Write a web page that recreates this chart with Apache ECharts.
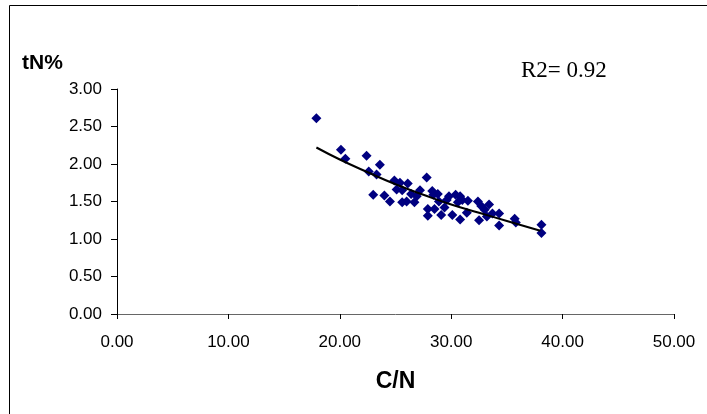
<!DOCTYPE html>
<html>
<head>
<meta charset="utf-8">
<script src="https://cdn.jsdelivr.net/npm/echarts@6/dist/echarts.min.js"></script>
<style>
  html, body { margin: 0; padding: 0; background: #fff; }
  #chart { width: 707px; height: 414px; }
</style>
</head>
<body>
<div id="chart"></div>
<script>
// C/N ratio of each sample
const cnValues = [
  17.9, 20.1, 20.5, 22.4, 22.6, 23.3, 23.6, 23.0, 24.0, 24.5,
  24.9, 25.1, 25.4, 25.6, 25.6, 26.1, 26.0, 26.4, 26.7, 26.9,
  27.2, 27.8, 27.9, 27.9, 28.3, 28.4, 28.5, 28.8, 28.9, 29.1,
  29.4, 29.6, 29.8, 30.1, 30.4, 30.6, 30.8, 30.8, 31.0, 31.4,
  31.5, 32.4, 32.5, 32.7, 33.0, 33.4, 33.2, 33.7, 34.3, 34.3,
  35.7, 35.8, 38.1, 38.1
];
// total nitrogen (%) of each sample
const tnValues = [
  2.61, 2.19, 2.07, 2.11, 1.90, 1.86, 1.99, 1.59, 1.58, 1.50,
  1.78, 1.66, 1.75, 1.65, 1.49, 1.74, 1.50, 1.60, 1.49, 1.57,
  1.65, 1.82, 1.31, 1.40, 1.64, 1.59, 1.40, 1.60, 1.50, 1.32,
  1.42, 1.52, 1.57, 1.32, 1.59, 1.49, 1.57, 1.26, 1.52, 1.35,
  1.51, 1.50, 1.25, 1.44, 1.39, 1.46, 1.30, 1.34, 1.34, 1.18,
  1.27, 1.22, 1.19, 1.08
];
// trend line through the cloud
const trendX = [17.9, 20, 22.5, 25, 27.5, 30, 32.5, 35, 38];
const trendY = [2.22, 2.06, 1.89, 1.73, 1.59, 1.46, 1.35, 1.24, 1.11];

const xTicks = [0, 10, 20, 30, 40, 50];
const yTicks = [0, 0.5, 1, 1.5, 2, 2.5, 3];
const r2Text = 'R2= 0.92';

const scatterData = cnValues.map((x, i) => [x, tnValues[i]]);
const trendData = trendX.map((x, i) => [x, trendY[i]]);

const chart = echarts.init(document.getElementById('chart'));
chart.setOption({
  backgroundColor: '#fff',
  animation: false,
  grid: { left: 117, right: 33, top: 89, bottom: 100 },
  xAxis: {
    type: 'value',
    min: xTicks[0],
    max: xTicks[xTicks.length - 1],
    interval: 10,
    name: 'C/N',
    nameLocation: 'middle',
    nameGap: 56,
    nameTextStyle: { fontFamily: 'Liberation Sans', fontWeight: 'bold', fontSize: 23, color: '#000' },
    axisLine: { lineStyle: { color: '#666', width: 1 } },
    axisTick: { show: true, inside: false, length: 5, lineStyle: { color: '#000' } },
    axisLabel: { formatter: v => v.toFixed(2), fontFamily: 'Liberation Sans', fontSize: 17, color: '#000', margin: 20 },
    splitLine: { show: false }
  },
  yAxis: {
    type: 'value',
    min: yTicks[0],
    max: yTicks[yTicks.length - 1],
    interval: 0.5,
    axisLine: { show: true, lineStyle: { color: '#000', width: 1 } },
    axisTick: { show: true, inside: false, length: 6, lineStyle: { color: '#000' } },
    axisLabel: { formatter: v => v.toFixed(2), fontFamily: 'Liberation Sans', fontSize: 17, color: '#000', margin: 15 },
    splitLine: { show: false }
  },
  graphic: [
    {
      type: 'rect',
      shape: { x: 9.5, y: 5.5, width: 760, height: 460 },
      style: { fill: 'none', stroke: '#000', lineWidth: 1 },
      silent: true
    },
    {
      type: 'text',
      left: 22, top: 53,
      style: { text: 'tN%', fontFamily: 'Liberation Sans', fontWeight: 'bold', fontSize: 21, fill: '#000' }
    },
    {
      type: 'text',
      left: 521, top: 59,
      style: { text: r2Text, fontFamily: 'Liberation Serif', fontSize: 23, fill: '#000' }
    }
  ],
  series: [
    {
      type: 'scatter',
      data: scatterData,
      symbol: 'diamond',
      symbolSize: 10,
      itemStyle: { color: '#000080', opacity: 1 },
      z: 2
    },
    {
      type: 'line',
      data: trendData,
      smooth: true,
      showSymbol: false,
      lineStyle: { color: '#000', width: 2 },
      z: 3
    }
  ]
});
</script>
</body>
</html>
